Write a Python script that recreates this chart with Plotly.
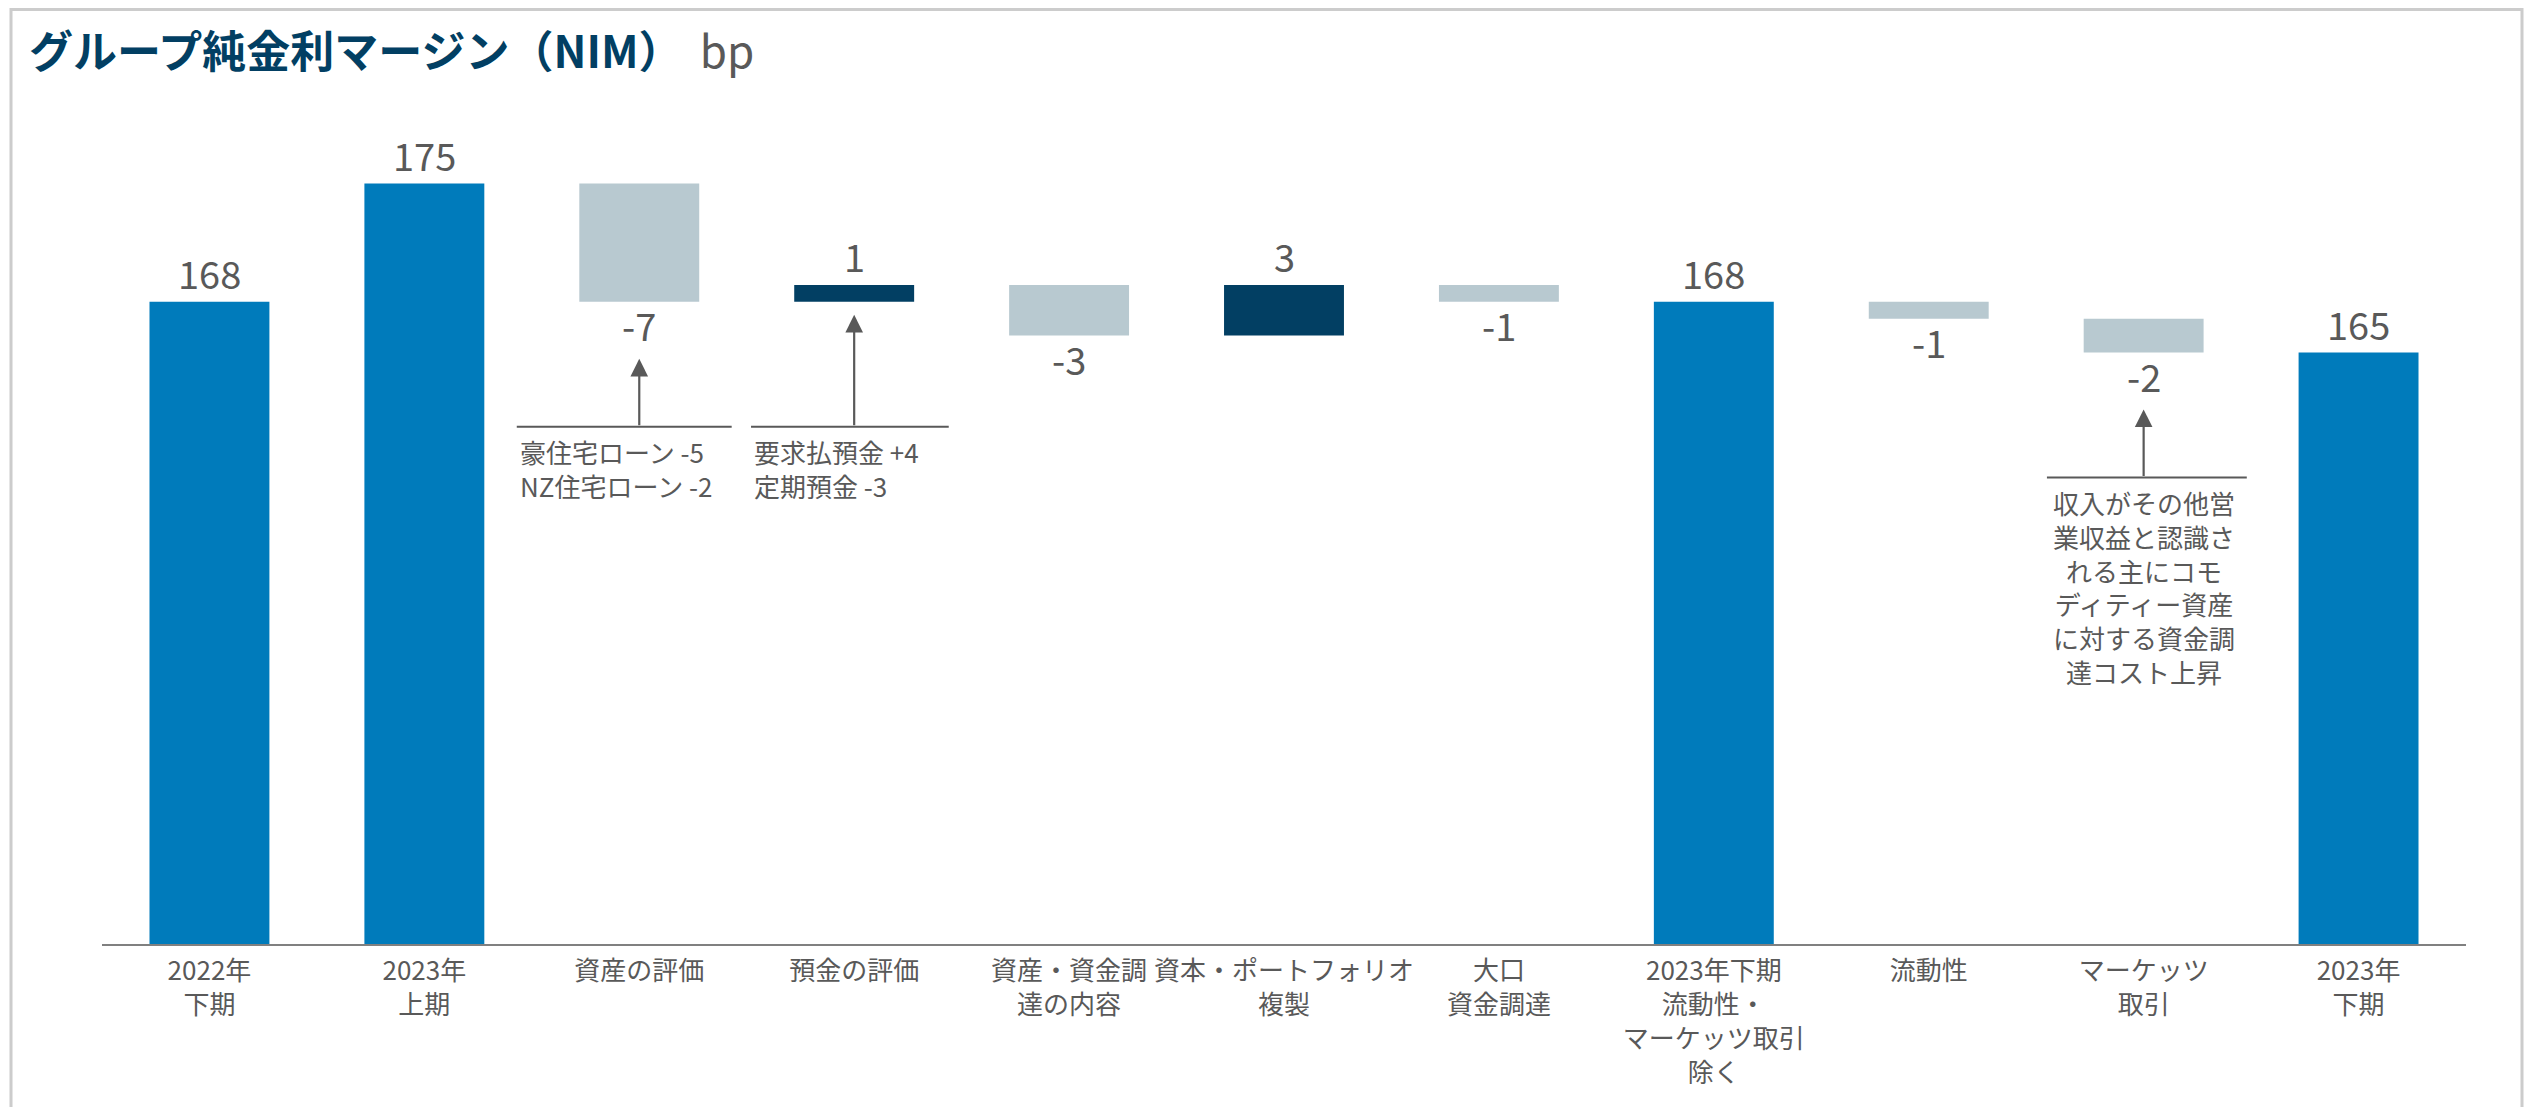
import plotly.graph_objects as go

# ---------------- data ----------------
categories = [
    "2022年<br>下期", "2023年<br>上期", "資産の評価", "預金の評価",
    "資産・資金調<br>達の内容", "資本・ポートフォリオ<br>複製", "大口<br>資金調達",
    "2023年下期<br>流動性・<br>マーケッツ取引<br>除く", "流動性", "マーケッツ<br>取引",
    "2023年<br>下期",
]
measures = ["absolute", "absolute", "relative", "relative", "relative", "relative",
            "relative", "total", "relative", "relative", "total"]
values = [168, 175, -7, 1, -3, 3, -1, None, -1, -2, None]

note_index = [2, 3, 9]
note_texts = [
    "豪住宅ローン -5<br>NZ住宅ローン -2",
    "要求払預金 +4<br>定期預金 -3",
    "収入がその他営<br>業収益と認識さ<br>れる主にコモ<br>ディティー資産<br>に対する資金調<br>達コスト上昇",
]

title_text = "グループ純金利マージン（NIM）"
unit_text = "bp"

# ---------------- styling ----------------
FONT = "Noto Sans CJK JP"
GREY = "#595959"
BLUE = "#007bbb"
NAVY = "#023f63"
LIGHT = "#b8c9d0"

OFF = 8                       # default body margin of the page
W, H = 2536 - 2 * OFF, 1115 - 2 * OFF
ML = 102 - OFF
MR = W - (2466 - OFF)
MT = 99 - OFF
MB = H - (944 - OFF)

# running starts/ends of each waterfall bar
starts, ends, labels = [], [], []
run = 0
for m, v in zip(measures, values):
    if m == "absolute":
        s, e = 0, v
        run = v
        lab = str(v)
    elif m == "total":
        s, e = 0, run
        lab = str(run)
    else:
        s, e = run, run + v
        run = run + v
        lab = str(v)
    starts.append(s)
    ends.append(e)
    labels.append(lab)

fig = go.Figure()
fig.add_trace(go.Waterfall(
    x=categories,
    y=values,
    measure=measures,
    connector=dict(visible=False),
    increasing=dict(marker=dict(color=NAVY)),
    decreasing=dict(marker=dict(color=LIGHT)),
    totals=dict(marker=dict(color=BLUE)),
    hoverinfo="skip",
    showlegend=False,
))

annotations = []
# value labels
for i, (s, e, lab) in enumerate(zip(starts, ends, labels)):
    up = e >= s
    annotations.append(dict(
        x=i, y=e, xref="x", yref="y", text=lab, showarrow=False,
        yanchor="bottom" if up else "top", yshift=0 if up else 7,
        font=dict(family=FONT, size=38, color=GREY),
    ))

# notes with arrows and rules
note_cfg = {
    2: dict(x0=-0.57, x1=0.43, tx=-0.565, anchor="left", standoff=57),
    3: dict(x0=-0.48, x1=0.44, tx=-0.475, anchor="left", standoff=13),
    9: dict(x0=-0.45, x1=0.48, tx=0.0, anchor="center", standoff=57),
}
shapes = []
for idx, txt in zip(note_index, note_texts):
    cfg = note_cfg[idx]
    bottom = min(starts[idx], ends[idx])
    annotations.append(dict(
        x=idx, y=bottom, xref="x", yref="y", text="", showarrow=True,
        ax=0, ay=125, axref="pixel", ayref="pixel", standoff=cfg["standoff"],
        arrowhead=2, arrowsize=1.6, arrowwidth=2.2, arrowcolor=GREY,
    ))
    shapes.append(dict(
        type="line", xref="x", yref="y", ysizemode="pixel", yanchor=bottom,
        x0=idx + cfg["x0"], x1=idx + cfg["x1"], y0=-125, y1=-125,
        line=dict(color=GREY, width=2),
    ))
    annotations.append(dict(
        x=idx + cfg["tx"], y=bottom, xref="x", yref="y", text=txt, showarrow=False,
        xanchor=cfg["anchor"], yanchor="top", yshift=-129,
        align=cfg["anchor"],
        font=dict(family=FONT, size=26, color=GREY),
    ))

# outer frame (page coords converted to paper coords)
ph = H - MT - MB
pw = W - ML - MR
def px(xp):
    return (xp - OFF - ML) / pw
def py(yp):
    return (H - MB - (yp - OFF)) / ph
shapes.append(dict(
    type="rect", xref="paper", yref="paper",
    x0=px(11), x1=px(2522), y0=py(1140), y1=py(9.5),
    line=dict(color="#cccccc", width=3), fillcolor="rgba(0,0,0,0)", layer="below",
))

fig.update_layout(
    width=W, height=H,
    margin=dict(l=ML, r=MR, t=MT, b=MB, pad=0),
    paper_bgcolor="white", plot_bgcolor="white",
    waterfallgap=0.442,
    title=dict(
        text=f"<b>{title_text}</b>\u00a0\u2006<span style='color:{GREY}'>{unit_text}</span>",
        x=(29 - OFF) / W, xref="container", xanchor="left",
        y=1 - (53 - OFF) / H, yref="container", yanchor="middle",
        font=dict(family=FONT, size=44, color=NAVY),
    ),
    xaxis=dict(
        type="category", range=[-0.5, 10.5],
        showline=True, linecolor="#808080", linewidth=2,
        ticks="", showgrid=False, zeroline=False,
        ticklabelstandoff=3,
        tickfont=dict(family=FONT, size=26, color=GREY),
    ),
    yaxis=dict(
        range=[130, 180], visible=False, showgrid=False, zeroline=False,
    ),
    annotations=annotations,
    shapes=shapes,
    font=dict(family=FONT, color=GREY),
)

fig.write_html("out.html")
